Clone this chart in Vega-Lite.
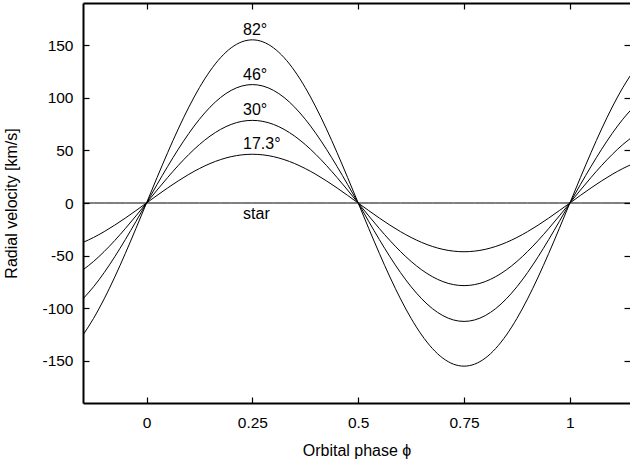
{
  "$schema": "https://vega.github.io/schema/vega-lite/v6.json",
  "width": 547,
  "height": 400,
  "autosize": {"type": "none"},
  "padding": {"left": 83, "top": 3, "right": 0, "bottom": 60},
  "background": "white",
  "config": {
    "font": "Liberation Sans",
    "view": {"stroke": null},
    "axis": {
      "grid": false,
      "domainColor": "black",
      "domainWidth": 2,
      "tickColor": "black",
      "tickWidth": 1.2,
      "tickSize": -6,
      "labelColor": "black",
      "labelFont": "Liberation Sans",
      "labelFontSize": 15.5,
      "titleFont": "Liberation Sans",
      "titleFontSize": 16,
      "titleFontWeight": "normal",
      "titleColor": "black"
    }
  },
  "layer": [
    {
      "data": {
        "values": [
          {"phase": -0.15, "i82": -125.40, "i46": -91.01, "i30": -63.51, "i17": -37.46, "star": 0},
          {"phase": -0.125, "i82": -109.60, "i46": -79.55, "i30": -55.51, "i17": -32.74, "star": 0},
          {"phase": -0.1, "i82": -91.11, "i46": -66.13, "i30": -46.14, "i17": -27.21, "star": 0},
          {"phase": -0.075, "i82": -70.37, "i46": -51.07, "i30": -35.64, "i17": -21.02, "star": 0},
          {"phase": -0.05, "i82": -47.90, "i46": -34.76, "i30": -24.26, "i17": -14.31, "star": 0},
          {"phase": -0.025, "i82": -24.25, "i46": -17.60, "i30": -12.28, "i17": -7.24, "star": 0},
          {"phase": 0, "i82": 0, "i46": 0, "i30": 0, "i17": 0, "star": 0},
          {"phase": 0.025, "i82": 24.25, "i46": 17.60, "i30": 12.28, "i17": 7.24, "star": 0},
          {"phase": 0.05, "i82": 47.90, "i46": 34.76, "i30": 24.26, "i17": 14.31, "star": 0},
          {"phase": 0.075, "i82": 70.37, "i46": 51.07, "i30": 35.64, "i17": 21.02, "star": 0},
          {"phase": 0.1, "i82": 91.11, "i46": 66.13, "i30": 46.14, "i17": 27.21, "star": 0},
          {"phase": 0.125, "i82": 109.60, "i46": 79.55, "i30": 55.51, "i17": 32.74, "star": 0},
          {"phase": 0.15, "i82": 125.40, "i46": 91.01, "i30": 63.51, "i17": 37.46, "star": 0},
          {"phase": 0.175, "i82": 138.11, "i46": 100.24, "i30": 69.94, "i17": 41.25, "star": 0},
          {"phase": 0.2, "i82": 147.41, "i46": 106.99, "i30": 74.66, "i17": 44.03, "star": 0},
          {"phase": 0.225, "i82": 153.09, "i46": 111.12, "i30": 77.53, "i17": 45.73, "star": 0},
          {"phase": 0.25, "i82": 155.00, "i46": 112.50, "i30": 78.50, "i17": 46.30, "star": 0},
          {"phase": 0.275, "i82": 153.09, "i46": 111.12, "i30": 77.53, "i17": 45.73, "star": 0},
          {"phase": 0.3, "i82": 147.41, "i46": 106.99, "i30": 74.66, "i17": 44.03, "star": 0},
          {"phase": 0.325, "i82": 138.11, "i46": 100.24, "i30": 69.94, "i17": 41.25, "star": 0},
          {"phase": 0.35, "i82": 125.40, "i46": 91.01, "i30": 63.51, "i17": 37.46, "star": 0},
          {"phase": 0.375, "i82": 109.60, "i46": 79.55, "i30": 55.51, "i17": 32.74, "star": 0},
          {"phase": 0.4, "i82": 91.11, "i46": 66.13, "i30": 46.14, "i17": 27.21, "star": 0},
          {"phase": 0.425, "i82": 70.37, "i46": 51.07, "i30": 35.64, "i17": 21.02, "star": 0},
          {"phase": 0.45, "i82": 47.90, "i46": 34.76, "i30": 24.26, "i17": 14.31, "star": 0},
          {"phase": 0.475, "i82": 24.25, "i46": 17.60, "i30": 12.28, "i17": 7.24, "star": 0},
          {"phase": 0.5, "i82": 0, "i46": 0, "i30": 0, "i17": 0, "star": 0},
          {"phase": 0.525, "i82": -24.25, "i46": -17.60, "i30": -12.28, "i17": -7.24, "star": 0},
          {"phase": 0.55, "i82": -47.90, "i46": -34.76, "i30": -24.26, "i17": -14.31, "star": 0},
          {"phase": 0.575, "i82": -70.37, "i46": -51.07, "i30": -35.64, "i17": -21.02, "star": 0},
          {"phase": 0.6, "i82": -91.11, "i46": -66.13, "i30": -46.14, "i17": -27.21, "star": 0},
          {"phase": 0.625, "i82": -109.60, "i46": -79.55, "i30": -55.51, "i17": -32.74, "star": 0},
          {"phase": 0.65, "i82": -125.40, "i46": -91.01, "i30": -63.51, "i17": -37.46, "star": 0},
          {"phase": 0.675, "i82": -138.11, "i46": -100.24, "i30": -69.94, "i17": -41.25, "star": 0},
          {"phase": 0.7, "i82": -147.41, "i46": -106.99, "i30": -74.66, "i17": -44.03, "star": 0},
          {"phase": 0.725, "i82": -153.09, "i46": -111.12, "i30": -77.53, "i17": -45.73, "star": 0},
          {"phase": 0.75, "i82": -155.00, "i46": -112.50, "i30": -78.50, "i17": -46.30, "star": 0},
          {"phase": 0.775, "i82": -153.09, "i46": -111.12, "i30": -77.53, "i17": -45.73, "star": 0},
          {"phase": 0.8, "i82": -147.41, "i46": -106.99, "i30": -74.66, "i17": -44.03, "star": 0},
          {"phase": 0.825, "i82": -138.11, "i46": -100.24, "i30": -69.94, "i17": -41.25, "star": 0},
          {"phase": 0.85, "i82": -125.40, "i46": -91.01, "i30": -63.51, "i17": -37.46, "star": 0},
          {"phase": 0.875, "i82": -109.60, "i46": -79.55, "i30": -55.51, "i17": -32.74, "star": 0},
          {"phase": 0.9, "i82": -91.11, "i46": -66.13, "i30": -46.14, "i17": -27.21, "star": 0},
          {"phase": 0.925, "i82": -70.37, "i46": -51.07, "i30": -35.64, "i17": -21.02, "star": 0},
          {"phase": 0.95, "i82": -47.90, "i46": -34.76, "i30": -24.26, "i17": -14.31, "star": 0},
          {"phase": 0.975, "i82": -24.25, "i46": -17.60, "i30": -12.28, "i17": -7.24, "star": 0},
          {"phase": 1.0, "i82": 0, "i46": 0, "i30": 0, "i17": 0, "star": 0},
          {"phase": 1.025, "i82": 24.25, "i46": 17.60, "i30": 12.28, "i17": 7.24, "star": 0},
          {"phase": 1.05, "i82": 47.90, "i46": 34.76, "i30": 24.26, "i17": 14.31, "star": 0},
          {"phase": 1.075, "i82": 70.37, "i46": 51.07, "i30": 35.64, "i17": 21.02, "star": 0},
          {"phase": 1.1, "i82": 91.11, "i46": 66.13, "i30": 46.14, "i17": 27.21, "star": 0},
          {"phase": 1.125, "i82": 109.60, "i46": 79.55, "i30": 55.51, "i17": 32.74, "star": 0},
          {"phase": 1.15, "i82": 125.40, "i46": 91.01, "i30": 63.51, "i17": 37.46, "star": 0}
        ]
      },
      "transform": [
        {"fold": ["i82", "i46", "i30", "i17", "star"], "as": ["curve", "velocity"]}
      ],
      "mark": {"type": "line", "color": "black", "strokeWidth": 1, "clip": true, "interpolate": "monotone"},
      "encoding": {
        "x": {
          "field": "phase",
          "type": "quantitative",
          "scale": {"domain": [-0.15, 1.142], "nice": false, "zero": false},
          "axis": {
            "orient": "bottom",
            "values": [0, 0.25, 0.5, 0.75, 1],
            "labelExpr": "'' + datum.value",
            "labelPadding": 18,
            "title": "Orbital phase ϕ",
            "titlePadding": 12
          }
        },
        "y": {
          "field": "velocity",
          "type": "quantitative",
          "scale": {"domain": [-190, 190], "nice": false, "zero": false},
          "axis": {
            "orient": "left",
            "values": [-150, -100, -50, 0, 50, 100, 150],
            "labelExpr": "'' + datum.value",
            "labelPadding": 16,
            "title": "Radial velocity [km/s]",
            "titlePadding": 22
          }
        },
        "detail": {"field": "curve"}
      }
    },
    {
      "data": {
        "values": [
          {"label": "82°", "phase": 0.228, "velocity": 160},
          {"label": "46°", "phase": 0.228, "velocity": 116.6},
          {"label": "30°", "phase": 0.228, "velocity": 83.3},
          {"label": "17.3°", "phase": 0.228, "velocity": 51},
          {"label": "star", "phase": 0.228, "velocity": -15.5}
        ]
      },
      "mark": {"type": "text", "align": "left", "baseline": "alphabetic", "fontSize": 16, "font": "Liberation Sans", "color": "black"},
      "encoding": {
        "x": {
          "field": "phase",
          "type": "quantitative",
          "axis": {"orient": "top", "values": [0, 0.25, 0.5, 0.75, 1], "labels": false, "title": null}
        },
        "y": {
          "field": "velocity",
          "type": "quantitative",
          "axis": {"orient": "right", "values": [-150, -100, -50, 0, 50, 100, 150], "labels": false, "title": null, "domain": false}
        },
        "text": {"field": "label"}
      }
    }
  ]
}
